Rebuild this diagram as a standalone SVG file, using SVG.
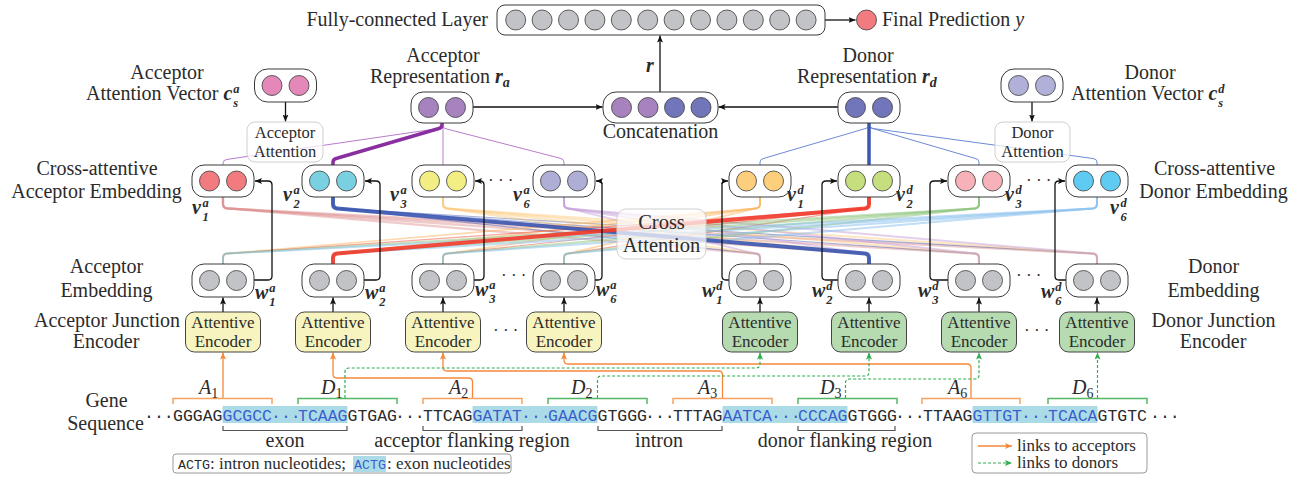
<svg xmlns="http://www.w3.org/2000/svg" width="1313" height="480" viewBox="0 0 1313 480" font-family="'Liberation Serif','Times New Roman',serif">
<defs>
<style>
text{font-family:"Liberation Serif","Times New Roman",serif;fill:#2b2b2b;font-size:20px}
.t17{font-size:17px}
.t16{font-size:16.5px}
.mid{text-anchor:middle}
.end{text-anchor:end}
.bi{font-weight:bold;font-style:italic}
.it{font-style:italic}
.sm{font-size:14px}
.sc{font-size:12.5px}
.mono{font-family:"Liberation Mono","Courier New",monospace;font-size:16.5px}
.blu{fill:#3a5fcd}
.box{fill:#fff;stroke:#3a3a3a;stroke-width:1}
.c{stroke:#3a3a3a;stroke-width:0.8}
.arr{fill:none;stroke:#111;stroke-width:1.3;marker-end:url(#ah)}
.enca{fill:#f8f4bf;stroke:#444;stroke-width:1}
.encd{fill:#b6dbb0;stroke:#444;stroke-width:1}
.soft{fill:#fff;fill-opacity:0.72;stroke:#cfcfcf;stroke-width:1}
.or{fill:none;stroke:#f5883a;stroke-width:1.3;marker-end:url(#ao)}
.gr{fill:none;stroke:#2fae4e;stroke-width:1.2;stroke-dasharray:3 2;marker-end:url(#ag)}
.bo{fill:none;stroke:#f5a263;stroke-width:1.5}
.bg{fill:none;stroke:#56b866;stroke-width:1.5}
.bk{fill:none;stroke:#555;stroke-width:1.2}
.hl{fill:#acdbe8}
.ra{fill:none;stroke:#b97ccc;stroke-width:1}
.rd{fill:none;stroke:#6d8ad6;stroke-width:1}
.x1a{fill:none;stroke:#dc8c8c;stroke-width:2.2;stroke-opacity:0.45}
.x2a{fill:none;stroke:#3a55b0;stroke-width:1.2;stroke-opacity:0.45}
.x3a{fill:none;stroke:#fcc878;stroke-width:2;stroke-opacity:0.45}
.x6a{fill:none;stroke:#c59fd9;stroke-width:2;stroke-opacity:0.5}
.x1d{fill:none;stroke:#fbb45c;stroke-width:1.6;stroke-opacity:0.5}
.x2d{fill:none;stroke:#f03a2a;stroke-width:1.2;stroke-opacity:0.45}
.x3d{fill:none;stroke:#8cc47a;stroke-width:2;stroke-opacity:0.5}
.x6d{fill:none;stroke:#8ec2ee;stroke-width:2;stroke-opacity:0.55}
.gry{fill:#c2c3c7}
</style>
<marker id="ah" markerWidth="8" markerHeight="6" refX="7" refY="3" orient="auto" markerUnits="userSpaceOnUse"><path d="M0,0 L7,3 L0,6 L1.5,3z" fill="#111"/></marker>
<marker id="ao" markerWidth="8" markerHeight="6" refX="7" refY="3" orient="auto" markerUnits="userSpaceOnUse"><path d="M0,0 L7,3 L0,6 L1.5,3z" fill="#f5883a"/></marker>
<marker id="ag" markerWidth="8" markerHeight="6" refX="7" refY="3" orient="auto" markerUnits="userSpaceOnUse"><path d="M0,0 L7,3 L0,6 L1.5,3z" fill="#2fae4e"/></marker>
</defs>
<rect width="1313" height="480" fill="#fff"/>

<g id="connectors">
  <path class="x1a" d="M223,197V204Q223,208 227,208.4L756,253.6Q760,254 760,258V264"/>
  <path class="x1a" d="M223,197V204Q223,208 227,208.4L865,253.6Q869,254 869,258V264"/>
  <path class="x1a" d="M223,197V204Q223,208 227,208.4L975,253.6Q979,254 979,258V264"/>
  <path class="x1a" d="M223,197V204Q223,208 227,208.4L1093,253.6Q1097,254 1097,258V264"/>
  <path class="x2a" d="M333,197V204Q333,208 337,208.4L756,253.6Q760,254 760,258V264"/>
  <path class="x2a" d="M333,197V204Q333,208 337,208.4L975,253.6Q979,254 979,258V264"/>
  <path class="x2a" d="M333,197V204Q333,208 337,208.4L1093,253.6Q1097,254 1097,258V264"/>
  <path class="x3a" d="M443,197V204Q443,208 447,208.4L756,253.6Q760,254 760,258V264"/>
  <path class="x3a" d="M443,197V204Q443,208 447,208.4L865,253.6Q869,254 869,258V264"/>
  <path class="x3a" d="M443,197V204Q443,208 447,208.4L975,253.6Q979,254 979,258V264"/>
  <path class="x3a" d="M443,197V204Q443,208 447,208.4L1093,253.6Q1097,254 1097,258V264"/>
  <path class="x6a" d="M564,197V204Q564,208 568,208.4L756,253.6Q760,254 760,258V264"/>
  <path class="x6a" d="M564,197V204Q564,208 568,208.4L865,253.6Q869,254 869,258V264"/>
  <path class="x6a" d="M564,197V204Q564,208 568,208.4L975,253.6Q979,254 979,258V264"/>
  <path class="x6a" d="M564,197V204Q564,208 568,208.4L1093,253.6Q1097,254 1097,258V264"/>
  <path class="x1d" d="M760,197V204Q760,208 756,208.4L227,253.6Q223,254 223,258V264"/>
  <path class="x1d" d="M760,197V204Q760,208 756,208.4L337,253.6Q333,254 333,258V264"/>
  <path class="x1d" d="M760,197V204Q760,208 756,208.4L447,253.6Q443,254 443,258V264"/>
  <path class="x1d" d="M760,197V204Q760,208 756,208.4L568,253.6Q564,254 564,258V264"/>
  <path class="x2d" d="M869,197V204Q869,208 865,208.4L227,253.6Q223,254 223,258V264"/>
  <path class="x2d" d="M869,197V204Q869,208 865,208.4L447,253.6Q443,254 443,258V264"/>
  <path class="x2d" d="M869,197V204Q869,208 865,208.4L568,253.6Q564,254 564,258V264"/>
  <path class="x3d" d="M979,197V204Q979,208 975,208.4L227,253.6Q223,254 223,258V264"/>
  <path class="x3d" d="M979,197V204Q979,208 975,208.4L337,253.6Q333,254 333,258V264"/>
  <path class="x3d" d="M979,197V204Q979,208 975,208.4L447,253.6Q443,254 443,258V264"/>
  <path class="x3d" d="M979,197V204Q979,208 975,208.4L568,253.6Q564,254 564,258V264"/>
  <path class="x6d" d="M1097,197V204Q1097,208 1093,208.4L227,253.6Q223,254 223,258V264"/>
  <path class="x6d" d="M1097,197V204Q1097,208 1093,208.4L337,253.6Q333,254 333,258V264"/>
  <path class="x6d" d="M1097,197V204Q1097,208 1093,208.4L447,253.6Q443,254 443,258V264"/>
  <path class="x6d" d="M1097,197V204Q1097,208 1093,208.4L568,253.6Q564,254 564,258V264"/>
  <path d="M333,197V204Q333,208 337,208.4L865,253.6Q869,254 869,258V264" fill="none" stroke="#3a55b0" stroke-width="4" stroke-opacity="0.9"/>
  <path d="M869,197V204Q869,208 865,208.4L337,253.6Q333,254 333,258V264" fill="none" stroke="#f03a2a" stroke-width="4" stroke-opacity="0.9"/>

  <path class="ra" d="M442,123V125Q442,128 438,128.6L227,159.4Q223,160 223,163V165"/>
  <path class="ra" d="M443,123V165"/>
  <path class="ra" d="M442,123V125Q442,128 446,128.8L560,158.2Q564,159 564,162V165"/>
  <path d="M442,123V125Q442,128 438,128.8L337,158.2Q333,159 333,162V165" fill="none" stroke="#8a2f9f" stroke-width="3.5"/>
  <path class="rd" d="M869,123V125Q869,128 865,128.7L764,158.3Q760,159 760,162V165"/>
  <path class="rd" d="M869,123V125Q869,128 873,128.6L975,158.4Q979,159 979,162V165"/>
  <path class="rd" d="M869,123V125Q869,128 873,128.5L1093,158.5Q1097,159 1097,162V165"/>
  <path d="M869,123V165" fill="none" stroke="#3a56b0" stroke-width="3.5"/>

  <path class="arr" d="M825,20H855.5"/>
  <path class="arr" d="M660,92V35.5"/>
  <path class="arr" d="M473,107H602.5"/>
  <path class="arr" d="M838,107H718.5"/>
  <path class="arr" d="M285.5,102V121.5"/>
  <path class="arr" d="M1032,102V121.5"/>

  <path class="arr" d="M254,280H268Q272,280 272,276V185Q272,181 268,181H255"/>
  <path class="arr" d="M364,280H376Q380,280 380,276V185Q380,181 376,181H365"/>
  <path class="arr" d="M474,280H480Q484,280 484,276V185Q484,181 480,181H475"/>
  <path class="arr" d="M595,280H598Q602,280 602,276V185Q602,181 598,181H596"/>
  <path class="arr" d="M729,280H726Q722,280 722,276V185Q722,181 726,181H728"/>
  <path class="arr" d="M838,280H826Q822,280 822,276V185Q822,181 826,181H837"/>
  <path class="arr" d="M948,280H934Q930,280 930,276V185Q930,181 934,181H947"/>
  <path class="arr" d="M1066,280H1059Q1055,280 1055,276V185Q1055,181 1059,181H1065"/>

  <path class="arr" d="M223,312V297.5"/>
  <path class="arr" d="M333,312V297.5"/>
  <path class="arr" d="M443,312V297.5"/>
  <path class="arr" d="M564,312V297.5"/>
  <path class="arr" d="M760,312V297.5"/>
  <path class="arr" d="M869,312V297.5"/>
  <path class="arr" d="M979,312V297.5"/>
  <path class="arr" d="M1097,312V297.5"/>

  <path class="or" d="M223,398V352.5"/>
  <path class="or" d="M472.5,398V382Q472.5,378 468.5,378H337Q333,378 333,374V352.5"/>
  <path class="or" d="M722.5,398V375Q722.5,371 718.5,371H447Q443,371 443,367V352.5"/>
  <path class="or" d="M971,398V368Q971,364 967,364H568Q564,364 564,360V352.5"/>
  <path class="gr" d="M345,398V372Q345,368 349,368H756Q760,368 760,364V352.5"/>
  <path class="gr" d="M597.5,398V380Q597.5,376 601.5,376H865Q869,376 869,372V352.5"/>
  <path class="gr" d="M845.5,398V383Q845.5,379 849.5,379H975Q979,379 979,375V352.5"/>
  <path class="gr" d="M1097.5,398V352.5"/>
</g>

<g id="fc">
  <rect class="box" x="497" y="5" width="328" height="30" rx="8"/>
  <circle class="c gry" cx="515.7" cy="20" r="10"/>
  <circle class="c gry" cx="542.1" cy="20" r="10"/>
  <circle class="c gry" cx="568.5" cy="20" r="10"/>
  <circle class="c gry" cx="594.9" cy="20" r="10"/>
  <circle class="c gry" cx="621.3" cy="20" r="10"/>
  <circle class="c gry" cx="647.7" cy="20" r="10"/>
  <circle class="c gry" cx="674.1" cy="20" r="10"/>
  <circle class="c gry" cx="700.5" cy="20" r="10"/>
  <circle class="c gry" cx="726.9" cy="20" r="10"/>
  <circle class="c gry" cx="753.3" cy="20" r="10"/>
  <circle class="c gry" cx="779.7" cy="20" r="10"/>
  <circle class="c gry" cx="806.1" cy="20" r="10"/>
  <text class="end" x="488" y="26">Fully-connected Layer</text>
</g>
<g id="final">
  <circle class="c" cx="866.5" cy="20" r="10" fill="#f27b7f"/>
  <text x="882" y="26">Final Prediction <tspan class="it">y</tspan></text>
</g>
<text class="bi" x="646" y="72">r</text>

<g id="csa">
  <rect class="box" x="254.5" y="69" width="62" height="33" rx="13"/>
  <circle class="c" cx="272" cy="85.5" r="10" fill="#e388b9"/>
  <circle class="c" cx="299" cy="85.5" r="10" fill="#e388b9"/>
  <text class="mid" x="167" y="79">Acceptor</text>
  <text x="86" y="100">Attention Vector <tspan class="bi">c</tspan><tspan class="bi sc" dx="1" dy="-7.5">a</tspan><tspan class="bi sc" dx="-6.25" dy="14">s</tspan></text>
</g>
<g id="acc-att">
  <rect class="soft" x="247" y="122" width="76" height="40" rx="8"/>
  <text class="mid t16" x="285" y="138">Acceptor</text>
  <text class="mid t16" x="285" y="157">Attention</text>
</g>

<g id="ra">
  <rect class="box" x="411" y="92" width="62" height="31" rx="12"/>
  <circle class="c" cx="428.5" cy="107.5" r="10" fill="#a682be"/>
  <circle class="c" cx="455.5" cy="107.5" r="10" fill="#a682be"/>
  <text class="mid" x="443" y="62">Acceptor</text>
  <text x="370" y="83">Representation <tspan class="bi">r</tspan><tspan class="bi sm" dy="4">a</tspan></text>
</g>

<g id="concat">
  <rect class="box" x="603" y="92" width="115" height="31" rx="13"/>
  <circle class="c" cx="621.5" cy="107.5" r="10" fill="#a682be"/>
  <circle class="c" cx="648" cy="107.5" r="10" fill="#a682be"/>
  <circle class="c" cx="674.5" cy="107.5" r="10" fill="#7076b9"/>
  <circle class="c" cx="701" cy="107.5" r="10" fill="#7076b9"/>
  <text class="mid" x="660.5" y="138">Concatenation</text>
</g>

<g id="rd">
  <rect class="box" x="838" y="92" width="62" height="31" rx="12"/>
  <circle class="c" cx="855.5" cy="107.5" r="10" fill="#7076b9"/>
  <circle class="c" cx="882.5" cy="107.5" r="10" fill="#7076b9"/>
  <text class="mid" x="868" y="62">Donor</text>
  <text x="797" y="83">Representation <tspan class="bi">r</tspan><tspan class="bi sm" dy="4">d</tspan></text>
</g>

<g id="csd">
  <rect class="box" x="1001" y="69" width="62" height="33" rx="13"/>
  <circle class="c" cx="1018.5" cy="85.5" r="10" fill="#b0b0d8"/>
  <circle class="c" cx="1045.5" cy="85.5" r="10" fill="#b0b0d8"/>
  <text class="mid" x="1150" y="79">Donor</text>
  <text x="1071" y="100">Attention Vector <tspan class="bi">c</tspan><tspan class="bi sc" dx="1" dy="-7.5">d</tspan><tspan class="bi sc" dx="-6.25" dy="14">s</tspan></text>
</g>
<g id="don-att">
  <rect class="soft" x="995" y="122" width="75" height="40" rx="8"/>
  <text class="mid t16" x="1032.5" y="138">Donor</text>
  <text class="mid t16" x="1032.5" y="157">Attention</text>
</g>

<g id="cross">
  <rect class="soft" x="617" y="209" width="89" height="50" rx="9"/>
  <text class="mid" x="661.5" y="229" style="font-size:20.5px">Cross</text>
  <text class="mid" x="661.5" y="252" style="font-size:20.5px">Attention</text>
</g>

<g id="labels-left">
  <text class="mid" x="97" y="175">Cross-attentive</text>
  <text class="mid" x="96.5" y="198">Acceptor Embedding</text>
  <text class="mid" x="106.5" y="273">Acceptor</text>
  <text class="mid" x="106.5" y="297">Embedding</text>
  <text class="mid" x="107" y="327">Acceptor Junction</text>
  <text class="mid" x="106" y="348">Encoder</text>
  <text class="mid" x="106.5" y="407">Gene</text>
  <text class="mid" x="105.5" y="430">Sequence</text>
</g>
<g id="labels-right">
  <text class="mid" x="1214.5" y="175">Cross-attentive</text>
  <text class="mid" x="1213.5" y="198">Donor Embedding</text>
  <text class="mid" x="1213.5" y="273">Donor</text>
  <text class="mid" x="1213.5" y="297">Embedding</text>
  <text class="mid" x="1213.5" y="327">Donor Junction</text>
  <text class="mid" x="1213" y="348">Encoder</text>
</g>

<g id="v1a">
  <rect class="box" x="192" y="165" width="62" height="32" rx="12"/>
  <circle class="c" cx="209.5" cy="181" r="10" fill="#f27b7f"/>
  <circle class="c" cx="236.5" cy="181" r="10" fill="#f27b7f"/>
  <text class="bi" x="192" y="214">v<tspan class="sc" dx="1.5" dy="-7.5">a</tspan><tspan class="sc" dx="-6.25" dy="14">1</tspan></text>
</g>
<g id="v2a">
  <rect class="box" x="302" y="165" width="62" height="32" rx="12"/>
  <circle class="c" cx="319.5" cy="181" r="10" fill="#79d0e1"/>
  <circle class="c" cx="346.5" cy="181" r="10" fill="#79d0e1"/>
  <text class="bi" x="283" y="201">v<tspan class="sc" dx="1.5" dy="-7.5">a</tspan><tspan class="sc" dx="-6.25" dy="14">2</tspan></text>
</g>
<g id="v3a">
  <rect class="box" x="412" y="165" width="62" height="32" rx="12"/>
  <circle class="c" cx="429.5" cy="181" r="10" fill="#f2ee84"/>
  <circle class="c" cx="456.5" cy="181" r="10" fill="#f2ee84"/>
  <text class="bi" x="390" y="201">v<tspan class="sc" dx="1.5" dy="-7.5">a</tspan><tspan class="sc" dx="-6.25" dy="14">3</tspan></text>
</g>
<text class="t17" x="488" y="186">· · ·</text>
<g id="v6a">
  <rect class="box" x="533" y="165" width="62" height="32" rx="12"/>
  <circle class="c" cx="550.5" cy="181" r="10" fill="#aeaed6"/>
  <circle class="c" cx="577.5" cy="181" r="10" fill="#aeaed6"/>
  <text class="bi" x="513" y="201">v<tspan class="sc" dx="1.5" dy="-7.5">a</tspan><tspan class="sc" dx="-6.25" dy="14">6</tspan></text>
</g>

<g id="v1d">
  <rect class="box" x="729" y="165" width="62" height="32" rx="12"/>
  <circle class="c" cx="746.5" cy="181" r="10" fill="#fdcf7c"/>
  <circle class="c" cx="773.5" cy="181" r="10" fill="#fdcf7c"/>
  <text class="bi" x="787" y="201">v<tspan class="sc" dx="1.5" dy="-7.5">d</tspan><tspan class="sc" dx="-6.25" dy="14">1</tspan></text>
</g>
<g id="v2d">
  <rect class="box" x="838" y="165" width="62" height="32" rx="12"/>
  <circle class="c" cx="855.5" cy="181" r="10" fill="#c5de7e"/>
  <circle class="c" cx="882.5" cy="181" r="10" fill="#c5de7e"/>
  <text class="bi" x="896" y="201">v<tspan class="sc" dx="1.5" dy="-7.5">d</tspan><tspan class="sc" dx="-6.25" dy="14">2</tspan></text>
</g>
<g id="v3d">
  <rect class="box" x="948" y="165" width="62" height="32" rx="12"/>
  <circle class="c" cx="965.5" cy="181" r="10" fill="#f7b1b8"/>
  <circle class="c" cx="992.5" cy="181" r="10" fill="#f7b1b8"/>
  <text class="bi" x="1005" y="201">v<tspan class="sc" dx="1.5" dy="-7.5">d</tspan><tspan class="sc" dx="-6.25" dy="14">3</tspan></text>
</g>
<text class="t17" x="1026" y="186">· · ·</text>
<g id="v6d">
  <rect class="box" x="1066" y="165" width="62" height="32" rx="12"/>
  <circle class="c" cx="1083.5" cy="181" r="10" fill="#5fcbf2"/>
  <circle class="c" cx="1110.5" cy="181" r="10" fill="#5fcbf2"/>
  <text class="bi" x="1110" y="214">v<tspan class="sc" dx="1.5" dy="-7.5">d</tspan><tspan class="sc" dx="-6.25" dy="14">6</tspan></text>
</g>

<g id="w1a">
  <rect class="box" x="192" y="264" width="62" height="33" rx="12"/>
  <circle class="c gry" cx="209.5" cy="280.5" r="10"/>
  <circle class="c gry" cx="236.5" cy="280.5" r="10"/>
  <text class="bi" x="255" y="299">w<tspan class="sc" dx="1" dy="-7.5">a</tspan><tspan class="sc" dx="-6.25" dy="14">1</tspan></text>
</g>
<g id="w2a">
  <rect class="box" x="302" y="264" width="62" height="33" rx="12"/>
  <circle class="c gry" cx="319.5" cy="280.5" r="10"/>
  <circle class="c gry" cx="346.5" cy="280.5" r="10"/>
  <text class="bi" x="365" y="299">w<tspan class="sc" dx="1" dy="-7.5">a</tspan><tspan class="sc" dx="-6.25" dy="14">2</tspan></text>
</g>
<g id="w3a">
  <rect class="box" x="412" y="264" width="62" height="33" rx="12"/>
  <circle class="c gry" cx="429.5" cy="280.5" r="10"/>
  <circle class="c gry" cx="456.5" cy="280.5" r="10"/>
  <text class="bi" x="475" y="296">w<tspan class="sc" dx="1" dy="-7.5">a</tspan><tspan class="sc" dx="-6.25" dy="14">3</tspan></text>
</g>
<text class="t17" x="501" y="281">· · ·</text>
<g id="w6a">
  <rect class="box" x="533" y="264" width="62" height="33" rx="12"/>
  <circle class="c gry" cx="550.5" cy="280.5" r="10"/>
  <circle class="c gry" cx="577.5" cy="280.5" r="10"/>
  <text class="bi" x="596" y="296">w<tspan class="sc" dx="1" dy="-7.5">a</tspan><tspan class="sc" dx="-6.25" dy="14">6</tspan></text>
</g>

<g id="w1d">
  <rect class="box" x="729" y="264" width="62" height="33" rx="12"/>
  <circle class="c gry" cx="746.5" cy="280.5" r="10"/>
  <circle class="c gry" cx="773.5" cy="280.5" r="10"/>
  <text class="bi" x="702" y="297">w<tspan class="sc" dx="1" dy="-7.5">d</tspan><tspan class="sc" dx="-6.25" dy="14">1</tspan></text>
</g>
<g id="w2d">
  <rect class="box" x="838" y="264" width="62" height="33" rx="12"/>
  <circle class="c gry" cx="855.5" cy="280.5" r="10"/>
  <circle class="c gry" cx="882.5" cy="280.5" r="10"/>
  <text class="bi" x="812" y="297">w<tspan class="sc" dx="1" dy="-7.5">d</tspan><tspan class="sc" dx="-6.25" dy="14">2</tspan></text>
</g>
<g id="w3d">
  <rect class="box" x="948" y="264" width="62" height="33" rx="12"/>
  <circle class="c gry" cx="965.5" cy="280.5" r="10"/>
  <circle class="c gry" cx="992.5" cy="280.5" r="10"/>
  <text class="bi" x="918" y="297">w<tspan class="sc" dx="1" dy="-7.5">d</tspan><tspan class="sc" dx="-6.25" dy="14">3</tspan></text>
</g>
<text class="t17" x="1016" y="281">· · ·</text>
<g id="w6d">
  <rect class="box" x="1066" y="264" width="62" height="33" rx="12"/>
  <circle class="c gry" cx="1083.5" cy="280.5" r="10"/>
  <circle class="c gry" cx="1110.5" cy="280.5" r="10"/>
  <text class="bi" x="1041" y="298">w<tspan class="sc" dx="1" dy="-7.5">d</tspan><tspan class="sc" dx="-6.25" dy="14">6</tspan></text>
</g>

<g id="enc-a1"><rect class="enca" x="185.5" y="312" width="75" height="40" rx="9"/><text class="mid t17" x="223" y="328">Attentive</text><text class="mid t17" x="223" y="347">Encoder</text></g>
<g id="enc-a2"><rect class="enca" x="295.5" y="312" width="75" height="40" rx="9"/><text class="mid t17" x="333" y="328">Attentive</text><text class="mid t17" x="333" y="347">Encoder</text></g>
<g id="enc-a3"><rect class="enca" x="405.5" y="312" width="75" height="40" rx="9"/><text class="mid t17" x="443" y="328">Attentive</text><text class="mid t17" x="443" y="347">Encoder</text></g>
<text class="t17" x="493" y="336">· · ·</text>
<g id="enc-a6"><rect class="enca" x="526.5" y="312" width="75" height="40" rx="9"/><text class="mid t17" x="564" y="328">Attentive</text><text class="mid t17" x="564" y="347">Encoder</text></g>
<g id="enc-d1"><rect class="encd" x="722.5" y="312" width="75" height="40" rx="9"/><text class="mid t17" x="760" y="328">Attentive</text><text class="mid t17" x="760" y="347">Encoder</text></g>
<g id="enc-d2"><rect class="encd" x="831.5" y="312" width="75" height="40" rx="9"/><text class="mid t17" x="869" y="328">Attentive</text><text class="mid t17" x="869" y="347">Encoder</text></g>
<g id="enc-d3"><rect class="encd" x="941.5" y="312" width="75" height="40" rx="9"/><text class="mid t17" x="979" y="328">Attentive</text><text class="mid t17" x="979" y="347">Encoder</text></g>
<text class="t17" x="1024" y="336">· · ·</text>
<g id="enc-d6"><rect class="encd" x="1059.5" y="312" width="75" height="40" rx="9"/><text class="mid t17" x="1097" y="328">Attentive</text><text class="mid t17" x="1097" y="347">Encoder</text></g>

<g id="sequence">
  <rect class="hl" x="222.5" y="406" width="125" height="17"/>
  <rect class="hl" x="472.5" y="406" width="125" height="17"/>
  <rect class="hl" x="722.5" y="406" width="125" height="17"/>
  <rect class="hl" x="972.5" y="406" width="125" height="17"/>
  <text class="mono" x="144" y="421">···</text>
  <text class="mono" x="173" y="421">GGGAG</text><text class="mono blu" x="222.5" y="421">GCGCC</text><text class="mono blu" x="271" y="421">···</text><text class="mono blu" x="298" y="421">TCAAG</text><text class="mono" x="347.5" y="421">GTGAG</text><text class="mono" x="395" y="421">···</text>
  <text class="mono" x="423" y="421">TTCAG</text><text class="mono blu" x="472.5" y="421">GATAT</text><text class="mono blu" x="521" y="421">···</text><text class="mono blu" x="548" y="421">GAACG</text><text class="mono" x="597.5" y="421">GTGGG</text><text class="mono" x="645" y="421">···</text>
  <text class="mono" x="673" y="421">TTTAG</text><text class="mono blu" x="722.5" y="421">AATCA</text><text class="mono blu" x="771" y="421">···</text><text class="mono blu" x="798" y="421">CCCAG</text><text class="mono" x="847.5" y="421">GTGGG</text><text class="mono" x="895" y="421">···</text>
  <text class="mono" x="923" y="421">TTAAG</text><text class="mono blu" x="972.5" y="421">GTTGT</text><text class="mono blu" x="1021" y="421">···</text><text class="mono blu" x="1048" y="421">TCACA</text><text class="mono" x="1097.5" y="421">GTGTC</text><text class="mono" x="1150" y="421">···</text>

  <path class="bo" d="M173,404V398.5H272V404"/>
  <path class="bg" d="M298,404V398.5H397V404"/>
  <path class="bo" d="M423,404V398.5H522V404"/>
  <path class="bg" d="M548,404V398.5H647V404"/>
  <path class="bo" d="M673,404V398.5H772V404"/>
  <path class="bg" d="M798,404V398.5H897V404"/>
  <path class="bo" d="M922,404V398.5H1020V404"/>
  <path class="bg" d="M1048,404V398.5H1147V404"/>

  <text class="it" x="199" y="394">A<tspan class="sm" font-style="normal" dy="4">1</tspan></text>
  <text class="it" x="321" y="394">D<tspan class="sm" font-style="normal" dy="4">1</tspan></text>
  <text class="it" x="449" y="394">A<tspan class="sm" font-style="normal" dy="4">2</tspan></text>
  <text class="it" x="571" y="394">D<tspan class="sm" font-style="normal" dy="4">2</tspan></text>
  <text class="it" x="698" y="394">A<tspan class="sm" font-style="normal" dy="4">3</tspan></text>
  <text class="it" x="820" y="394">D<tspan class="sm" font-style="normal" dy="4">3</tspan></text>
  <text class="it" x="948" y="394">A<tspan class="sm" font-style="normal" dy="4">6</tspan></text>
  <text class="it" x="1072" y="394">D<tspan class="sm" font-style="normal" dy="4">6</tspan></text>

  <path class="bk" d="M223,426V430.5H347V426"/>
  <path class="bk" d="M423,426V430.5H522V426"/>
  <path class="bk" d="M598,426V430.5H722V426"/>
  <path class="bk" d="M798,426V430.5H895V426"/>
  <text class="mid" x="285" y="447">exon</text>
  <text class="mid" x="472" y="447">acceptor flanking region</text>
  <text class="mid" x="659" y="447">intron</text>
  <text class="mid" x="845" y="447">donor flanking region</text>
</g>

<g id="legend-nuc">
  <rect x="173" y="454" width="338" height="19" rx="3" fill="#fff" stroke="#9a9a9a" stroke-width="1"/>
  <rect class="hl" x="353" y="456" width="33" height="16"/>
  <text class="mono" x="178" y="469" style="font-size:13.3px">ACTG</text>
  <text class="t17" x="210" y="469">: intron nucleotides;</text>
  <text class="mono blu" x="354" y="469" style="font-size:13.3px">ACTG</text>
  <text class="t17" x="387" y="469">: exon nucleotides</text>
</g>
<g id="legend-links">
  <rect x="972" y="433" width="175" height="40" rx="4" fill="#fff" stroke="#9a9a9a" stroke-width="1"/>
  <path class="or" d="M978,446H1012"/>
  <path class="gr" d="M978,463H1012"/>
  <text class="t17" x="1017" y="451">links to acceptors</text>
  <text class="t17" x="1017" y="468">links to donors</text>
</g>
</svg>
